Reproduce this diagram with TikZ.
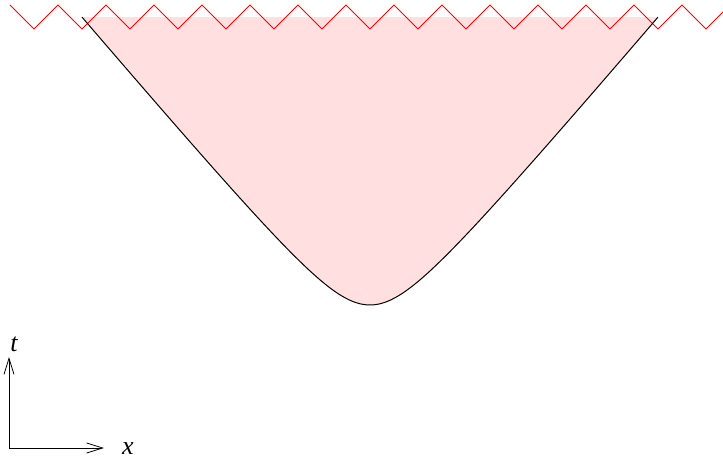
\documentclass[tikz,border=0pt]{standalone}
\usepackage{fontspec}
\setmainfont{Liberation Serif}
\usetikzlibrary{arrows.meta}
\definecolor{pinkfill}{HTML}{FFDFE0}

\begin{document}
\begin{tikzpicture}[x=1pt,y=1pt,axis/.style={-{Straight Barb[length=16pt,width=10pt]},line width=0.8pt},lbl/.style={font=\fontsize{26}{30}\selectfont\itshape},wall/.style={red,line width=1pt}]
\useasboundingbox (0,0) rectangle (723,461);
\fill[pinkfill] plot[domain=-2.88:2.88,samples=150] ({370+100*\x},{156+118*(sqrt(\x*\x+0.2304)-0.48)}) -- cycle;
\draw[wall] (10,456) \foreach \k in {0,...,13} { -- ({34+48*\k},432) -- ({58+48*\k},456) } -- (706,432) -- (723,449);
\draw[line width=1pt] plot[domain=-2.88:2.88,samples=150] ({370+100*\x},{156+118*(sqrt(\x*\x+0.2304)-0.48)});
% axes
\coordinate (o) at (9,13);
\coordinate (ttip) at (9,104);
\coordinate (xtip) at (104,13);
\draw[axis] (o) -- (ttip);
\draw[axis] (o) -- (xtip);
\node[lbl] (tl) at (14,117) {t};
\node[lbl] (xl) at (128,12) {x};
\end{tikzpicture}
\end{document}
